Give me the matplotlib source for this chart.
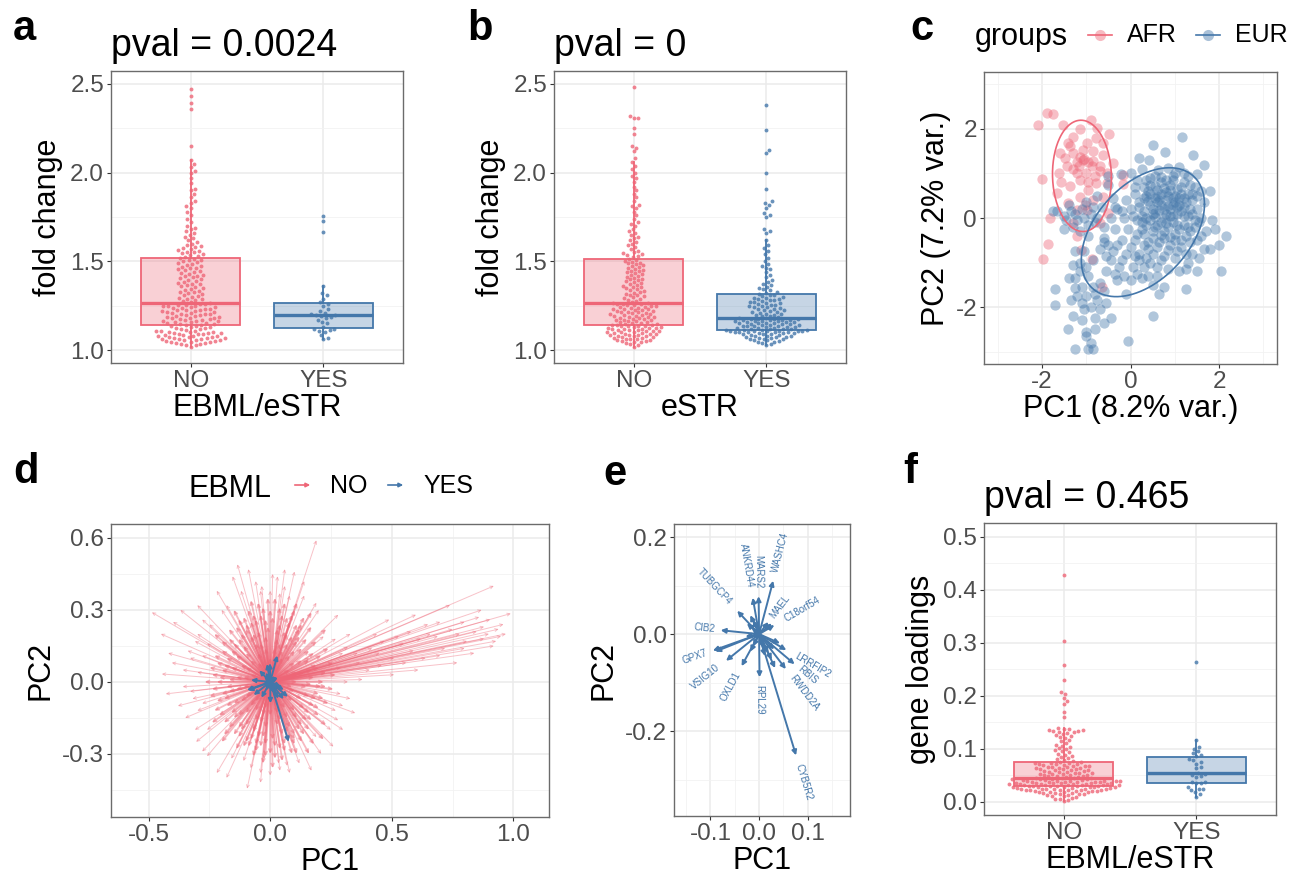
import numpy as np
import matplotlib
matplotlib.use("Agg")
import matplotlib.pyplot as plt
from matplotlib.lines import Line2D
from matplotlib.patches import FancyArrowPatch
from matplotlib.colors import to_rgba

plt.rcParams['font.family'] = ['Liberation Sans', 'DejaVu Sans']
plt.rcParams['axes.unicode_minus'] = False

# =========================
# Configs
# =========================
RED = "#EE6677"
BLUE = "#4477AA"
W, H = 1303, 876
OUT = "out.png"

# =========================
# Data
# =========================
# a: fold change, EBML/eSTR NO vs YES
a_no = [1.02, 1.026, 1.03, 1.033, 1.036, 1.039, 1.042, 1.044, 1.046, 1.048,
        1.05, 1.052, 1.054, 1.056, 1.058, 1.06, 1.062, 1.064, 1.066, 1.068,
        1.07, 1.072, 1.074, 1.076, 1.078, 1.08, 1.082, 1.084, 1.086, 1.088,
        1.09, 1.092, 1.094, 1.096, 1.098, 1.1, 1.102, 1.104, 1.106, 1.108,
        1.11, 1.113, 1.116, 1.119, 1.122, 1.125, 1.128, 1.131, 1.134, 1.138,
        1.141, 1.143, 1.146, 1.148, 1.151, 1.153, 1.156, 1.158, 1.161, 1.163,
        1.166, 1.168, 1.171, 1.173, 1.176, 1.178, 1.181, 1.183, 1.186, 1.188,
        1.191, 1.193, 1.196, 1.198, 1.201, 1.203, 1.206, 1.208, 1.211, 1.213,
        1.216, 1.218, 1.221, 1.223, 1.226, 1.228, 1.231, 1.233, 1.236, 1.238,
        1.241, 1.243, 1.246, 1.248, 1.251, 1.253, 1.256, 1.258, 1.261, 1.263,
        1.27, 1.275, 1.28, 1.285, 1.29, 1.295, 1.3, 1.305, 1.31, 1.315,
        1.32, 1.325, 1.33, 1.335, 1.34, 1.345, 1.35, 1.355, 1.36, 1.365,
        1.37, 1.375, 1.38, 1.385, 1.39, 1.395, 1.4, 1.405, 1.41, 1.415,
        1.42, 1.425, 1.43, 1.435, 1.44, 1.445, 1.45, 1.455, 1.46, 1.465,
        1.47, 1.475, 1.48, 1.485, 1.49, 1.495, 1.5, 1.505, 1.51, 1.515,
        1.52, 1.525, 1.53, 1.535, 1.54, 1.545, 1.55, 1.555, 1.56, 1.565,
        1.57, 1.575, 1.58, 1.585, 1.59, 1.6, 1.61, 1.62, 1.63, 1.64,
        1.65, 1.66, 1.67, 1.68, 1.69, 1.7, 1.72, 1.74, 1.76, 1.78,
        1.8, 1.81, 1.83, 1.84, 1.86, 1.88, 1.9, 1.91, 1.94, 1.97,
        2.0, 2.01, 2.03, 2.05, 2.07, 2.15, 2.36, 2.39, 2.43, 2.47]
a_yes = [1.06, 1.07, 1.085, 1.1, 1.11, 1.115, 1.118, 1.12, 1.13, 1.15,
         1.16, 1.17, 1.18, 1.185, 1.19, 1.196, 1.2, 1.205, 1.21, 1.22,
         1.23, 1.25, 1.26, 1.27, 1.29, 1.31, 1.32, 1.36, 1.665, 1.725, 1.755]

# b: fold change, eSTR NO vs YES
b_no = [1.02, 1.03, 1.035, 1.04, 1.043, 1.046, 1.049, 1.052, 1.055, 1.058,
        1.06, 1.062, 1.065, 1.067, 1.07, 1.072, 1.074, 1.077, 1.079, 1.081,
        1.083, 1.085, 1.087, 1.089, 1.091, 1.093, 1.095, 1.097, 1.099, 1.101,
        1.103, 1.105, 1.107, 1.109, 1.111, 1.113, 1.115, 1.117, 1.119, 1.121,
        1.123, 1.125, 1.127, 1.129, 1.131, 1.133, 1.135, 1.137, 1.138, 1.139,
        1.142, 1.144, 1.147, 1.149, 1.152, 1.154, 1.157, 1.159, 1.162, 1.164,
        1.167, 1.169, 1.172, 1.174, 1.177, 1.179, 1.182, 1.184, 1.187, 1.189,
        1.192, 1.194, 1.197, 1.199, 1.202, 1.204, 1.207, 1.209, 1.212, 1.214,
        1.217, 1.219, 1.222, 1.224, 1.227, 1.229, 1.232, 1.234, 1.237, 1.239,
        1.242, 1.244, 1.247, 1.249, 1.252, 1.254, 1.257, 1.259, 1.262, 1.264,
        1.268, 1.273, 1.278, 1.283, 1.288, 1.293, 1.298, 1.303, 1.308, 1.313,
        1.318, 1.323, 1.328, 1.333, 1.338, 1.343, 1.348, 1.353, 1.358, 1.363,
        1.368, 1.373, 1.378, 1.383, 1.388, 1.393, 1.398, 1.403, 1.408, 1.413,
        1.418, 1.423, 1.428, 1.433, 1.438, 1.443, 1.448, 1.453, 1.458, 1.463,
        1.468, 1.473, 1.478, 1.483, 1.488, 1.493, 1.498, 1.503, 1.508, 1.513,
        1.525, 1.53, 1.535, 1.54, 1.545, 1.55, 1.56, 1.57, 1.58, 1.59,
        1.6, 1.61, 1.62, 1.63, 1.64, 1.65, 1.66, 1.67, 1.68, 1.7,
        1.71, 1.72, 1.74, 1.76, 1.78, 1.8, 1.81, 1.82, 1.84, 1.86,
        1.88, 1.9, 1.92, 1.95, 1.97, 1.98, 2.0, 2.02, 2.04, 2.06,
        2.08, 2.12, 2.14, 2.15, 2.22, 2.25, 2.31, 2.31, 2.32, 2.48]
b_yes = [1.03, 1.036, 1.04, 1.044, 1.048, 1.051, 1.054, 1.057, 1.06, 1.062,
         1.065, 1.067, 1.07, 1.072, 1.074, 1.076, 1.078, 1.08, 1.082, 1.084,
         1.086, 1.088, 1.09, 1.092, 1.094, 1.096, 1.098, 1.1, 1.101, 1.102,
         1.103, 1.104, 1.105, 1.106, 1.107, 1.108, 1.109, 1.11, 1.111, 1.112,
         1.113, 1.115, 1.116, 1.118, 1.12, 1.121, 1.123, 1.125, 1.126, 1.128,
         1.13, 1.131, 1.133, 1.135, 1.136, 1.138, 1.14, 1.141, 1.143, 1.145,
         1.146, 1.148, 1.15, 1.151, 1.153, 1.155, 1.156, 1.158, 1.16, 1.161,
         1.163, 1.165, 1.166, 1.168, 1.17, 1.171, 1.172, 1.173, 1.174, 1.175,
         1.177, 1.18, 1.183, 1.186, 1.19, 1.193, 1.196, 1.2, 1.203, 1.206,
         1.21, 1.213, 1.216, 1.22, 1.223, 1.226, 1.23, 1.233, 1.236, 1.24,
         1.243, 1.246, 1.25, 1.253, 1.256, 1.26, 1.263, 1.266, 1.27, 1.273,
         1.276, 1.28, 1.283, 1.286, 1.29, 1.293, 1.296, 1.3, 1.304, 1.308,
         1.312, 1.318, 1.324, 1.33, 1.336, 1.342, 1.35, 1.358, 1.366, 1.375,
         1.385, 1.395, 1.41, 1.425, 1.44, 1.455, 1.465, 1.475, 1.485, 1.5,
         1.52, 1.54, 1.56, 1.575, 1.59,
         1.62, 1.66, 1.67, 1.68, 1.75, 1.76, 1.77, 1.8, 1.82, 1.83,
         1.84, 1.91, 2.0, 2.11, 2.13, 2.24, 2.38]

# c: sample PCA (PC1, PC2)
afr_pts = [(-2.10, 2.09), (-1.88, 2.36), (-1.76, 2.33), (-1.52, 2.08), (-1.14, 2.00),
           (-0.90, 2.21), (-0.75, 2.02), (-0.48, 1.89), (-1.41, 1.68), (-1.36, 1.62),
           (-2.01, 0.87), (-1.82, -0.01), (-1.86, -0.59), (-1.97, -0.91), (-1.62, 1.01),
           (-1.58, 0.80), (-1.65, 0.56), (-1.48, 1.35), (-1.29, 1.46), (-1.07, 1.53),
           (-0.84, 1.50), (-0.62, 1.42), (-0.39, 1.23), (-0.17, 0.97), (-0.18, 0.77),
           (-0.95, 0.82), (-1.16, 1.16), (-1.07, 1.31), (-0.84, 1.27), (-0.69, 1.05),
           (-1.22, 1.01), (-1.37, 0.72), (-1.41, 0.33), (-1.22, -0.41), (-0.86, -0.91),
           (-0.65, -1.55), (-0.77, 1.80), (-1.29, 1.83), (-0.99, 1.68), (-0.62, 1.68),
           (-1.14, 1.38), (-0.88, 1.16), (-0.69, 1.16), (-0.54, 1.01), (-0.54, 0.78),
           (-0.77, 0.78), (-0.95, 0.63), (-1.14, 0.48), (-0.84, 0.41), (-0.62, 0.48),
           (-0.50, 0.11), (-0.69, -0.12), (-0.99, 0.18), (-1.22, 0.18), (-1.31, -0.12),
           (-1.11, -0.72), (-1.59, 1.46), (-1.44, 1.16), (-1.14, 0.86), (-1.03, 0.29),
           (-1.05, 1.32), (-0.95, 1.25), (-1.20, 1.25), (-1.30, 1.10), (-0.80, 0.95),
           (-1.00, 1.00)]
eur_pts = [(1.16, 1.83), (0.5, 1.65), (0.77, 1.48), (1.42, 1.41), (0.2, 1.35),
           (0.42, 1.3), (1.65, 1.18), (1.5, 0.98), (1.1, 1.15), (0.85, 1.12),
           (0.62, 1.08), (0.25, 1.1), (0.0, 1.02), (-0.22, 0.98), (-0.5, 0.95),
           (1.3, 0.95), (0.95, 0.95), (0.7, 0.92), (0.45, 0.9), (0.15, 0.85),
           (1.2, 0.8), (1.6, 0.6), (1.8, 0.6), (1.45, 0.7), (0.9, 0.75),
           (0.3, 0.7), (0.55, 0.72), (0.75, 0.68), (1.05, 0.65), (1.3, 0.55),
           (0.1, 0.55), (0.35, 0.5), (0.6, 0.5), (0.85, 0.5), (1.1, 0.45),
           (1.4, 0.4), (1.65, 0.35), (-0.1, 0.4), (0.2, 0.35), (0.45, 0.3),
           (0.7, 0.3), (0.95, 0.3), (1.2, 0.25), (1.5, 0.2), (-0.3, 0.2),
           (0.0, 0.2), (0.3, 0.15), (0.55, 0.12), (0.8, 0.1), (1.05, 0.1),
           (1.3, 0.05), (1.6, 0.0), (1.85, -0.05), (-0.45, 0.0), (-0.15, 0.0),
           (0.15, -0.05), (0.45, -0.05), (0.7, -0.08), (0.95, -0.1), (1.2, -0.15),
           (1.45, -0.2), (1.7, -0.3), (1.92, -0.25), (2.15, -0.4), (2.0, -0.6),
           (1.8, -0.7), (-0.35, -0.25), (-0.05, -0.25), (0.25, -0.25), (0.5, -0.3),
           (0.75, -0.3), (1.0, -0.35), (1.25, -0.4), (1.5, -0.5), (-0.6, -0.45),
           (-0.2, -0.5), (0.1, -0.5), (0.4, -0.55), (0.65, -0.55), (0.9, -0.6),
           (1.15, -0.65), (1.4, -0.8), (1.65, -0.7), (-0.4, -0.75), (-0.1, -0.8),
           (0.2, -0.8), (0.5, -0.8), (0.75, -0.85), (1.0, -0.9), (1.3, -1.0),
           (1.55, -0.9), (-0.25, -1.1), (0.05, -1.1), (0.3, -1.1), (0.6, -1.1),
           (0.85, -1.15), (1.1, -1.2), (1.25, -1.15), (1.5, -1.2), (2.05, -1.2),
           (-0.55, -1.2), (-0.3, -1.4), (0.0, -1.4), (0.25, -1.35), (0.5, -1.5),
           (0.75, -1.55), (1.25, -1.6), (-0.1, -1.7), (0.65, -1.7),
           (0.4, 0.6), (0.7, 0.55), (0.9, 0.62), (1.15, 0.7), (0.5, 0.2),
           (0.65, 0.18), (0.9, 0.2), (1.1, 0.3), (1.35, 0.2), (0.35, -0.15),
           (0.6, -0.15), (0.85, -0.2), (1.1, -0.25), (1.35, -0.3), (0.55, 0.45),
           (0.8, 0.4), (1.0, 0.5), (0.25, 0.05), (1.2, 0.05), (0.75, -0.45),
           (1.0, -0.5), (0.3, -0.6),
           (0.3, 0.45), (0.45, 0.55), (0.6, 0.62), (0.8, 0.58), (0.95, 0.45),
           (1.15, 0.55), (1.25, 0.35), (1.05, 0.25), (0.85, 0.28), (0.6, 0.35),
           (0.4, 0.38), (0.2, 0.25), (0.35, 0.0), (0.55, 0.02), (0.75, 0.0),
           (0.95, 0.05), (1.15, 0.15), (1.4, 0.1), (1.55, -0.1), (1.3, -0.2),
           (1.05, -0.15), (0.8, -0.12), (0.55, -0.2), (0.3, -0.35), (0.5, -0.45),
           (0.7, -0.38), (0.9, -0.42), (1.15, -0.5), (1.35, -0.55), (0.6, -0.65),
           (0.85, -0.72), (1.05, -0.75), (0.4, -0.7), (0.15, -0.35), (0.05, 0.05),
           (0.1, 0.7), (0.45, 0.75), (0.7, 0.8), (0.95, 0.85), (1.2, 1.0),
           (1.0, 1.0), (0.55, 0.95), (1.35, 0.75), (1.5, 0.5), (1.45, -0.05),
           (1.6, -0.4), (1.25, -0.8), (0.7, -0.95), (0.45, -1.0), (0.2, -0.95),
           (0.65, 0.4), (0.9, 0.05), (0.75, 0.2), (1.0, 0.35), (0.5, 0.1),
           (0.25, -0.1), (1.2, 0.45), (0.35, 0.85), (0.8, 0.85), (1.4, 0.55),
           (-0.45, -0.95), (-0.2, -0.95), (0.0, -0.65), (0.15, -1.25), (-0.35, -1.25),
           (0.4, -1.3), (-0.5, -0.6), (-0.15, -1.3), (0.1, -0.85), (0.35, -0.9),
           (-0.3, -0.6), (0.6, -1.3),
           (-1.75, 0.15), (-1.65, 0.15), (-1.45, -0.05), (-1.5, -0.25), (-1.4, 0.3),
           (-1.25, 0.1), (-1.3, -0.2), (-1.0, 0.35), (-0.9, 0.1), (-0.8, -0.1),
           (-0.65, 0.25), (-0.95, -0.4), (-0.6, -0.55), (-0.7, -0.7), (-0.55, -0.85),
           (-0.85, -0.95), (-1.05, -0.75), (-0.4, 0.45), (-0.5, 0.75), (-0.35, 0.25),
           (-0.2, 0.15), (-1.15, -0.3), (-1.05, 0.0), (-0.75, 0.5),
           (-1.5, 0.05), (-1.35, 0.15), (-1.2, -0.05), (-0.95, -0.15), (-0.85, 0.25),
           (-0.75, 0.0), (-1.1, 0.2), (-0.6, -0.2),
           (-1.25, -0.75), (-1.3, -1.05), (-1.25, -1.35), (-1.1, -1.55), (-1.2, -1.75),
           (-1.0, -1.75), (-0.8, -1.7), (-0.75, -1.85), (-0.55, -1.9), (-0.7, -2.05),
           (-0.45, -2.25), (-0.6, -2.35), (-1.1, -2.3), (-1.42, -2.5), (-1.0, -2.55),
           (-0.8, -2.5), (-1.0, -2.65), (-0.85, -2.95), (-0.95, -2.95), (-1.25, -2.95),
           (-0.05, -2.77), (-1.7, -1.95), (-1.7, -1.6), (-1.35, -1.85), (-1.25, -1.58),
           (-1.15, -1.2), (-0.95, -1.3), (-0.7, -1.45), (0.5, -2.2), (-1.05, -2.05),
           (-0.9, -2.0), (-1.4, -1.35), (-1.15, -1.0), (-1.0, -1.1), (-0.85, -1.55),
           (-0.6, -1.65), (-1.3, -2.2), (-0.8, -2.25), (-1.1, -1.9), (-0.9, -2.8)]

# d: gene loadings (arrow tips), EBML NO -- long arrows
d_no_long = [
    (0.19, 0.59), (0.92, 0.40), (0.99, 0.285), (0.87, 0.30), (0.74, 0.32),
    (0.49, 0.26), (0.65, 0.24), (0.905, 0.26), (0.94, 0.22), (0.95, 0.19),
    (0.81, 0.17), (0.92, 0.15), (0.77, 0.08), (0.61, 0.05), (0.51, 0.03),
    (0.41, 0.05), (0.85, 0.21), (0.69, 0.19), (0.59, 0.13), (0.51, 0.10),
    (0.32, 0.145), (0.37, 0.08), (0.88, 0.23), (0.78, 0.20), (0.70, 0.25),
    (0.62, 0.18), (0.55, 0.16), (0.45, 0.12), (0.84, 0.12), (0.72, 0.14),
    (0.90, 0.20), (0.96, 0.24), (0.93, 0.17), (0.86, 0.27), (0.80, 0.25),
    (0.75, 0.22), (0.66, 0.20), (0.58, 0.21), (0.53, 0.19), (0.47, 0.17),
    (0.42, 0.14), (0.36, 0.12), (0.64, 0.10), (0.56, 0.08), (0.46, 0.07),
    (0.70, 0.11), (0.80, 0.14), (0.88, 0.18), (0.97, 0.20), (0.60, 0.28),
    (0.44, 0.20),
    (-0.487, 0.29), (-0.37, 0.30), (-0.446, 0.033), (-0.405, 0.08), (-0.34, 0.13),
    (-0.31, 0.17), (-0.33, -0.04), (-0.32, -0.07), (-0.305, -0.25), (-0.28, -0.29),
    (-0.22, -0.38), (-0.095, -0.445), (-0.135, 0.49), (-0.155, 0.44), (-0.18, 0.32),
    (0.01, 0.45), (0.03, 0.44), (0.10, 0.46), (-0.035, 0.40), (0.19, 0.33),
    (0.22, 0.19), (0.26, -0.27), (0.25, -0.20), (0.19, -0.23), (0.035, -0.34),
    (-0.025, -0.32), (0.33, -0.07), (0.38, 0.01), (0.16, 0.10), (-0.38, -0.10),
    (-0.35, -0.15), (-0.28, 0.26), (-0.42, 0.12),
    (-0.45, 0.20), (-0.40, 0.25), (-0.43, -0.05), (-0.36, 0.05), (-0.31, -0.20),
    (-0.26, -0.31), (-0.30, 0.32), (-0.22, 0.38), (-0.09, 0.47), (0.06, 0.47),
    (0.14, 0.42), (-0.18, -0.40), (0.17, -0.37), (0.21, -0.30), (0.30, -0.20),
    (0.35, -0.13), (0.33, 0.20), (0.28, 0.28),
    (-0.30, 0.20), (-0.33, 0.10), (-0.36, -0.02), (-0.30, -0.12), (-0.26, -0.20),
    (0.30, 0.12), (0.32, 0.0), (0.30, -0.10), (0.28, -0.16), (-0.06, 0.42),
    (0.06, 0.40), (-0.12, 0.38), (0.14, 0.36), (-0.20, 0.30), (-0.25, 0.24),
    (0.08, -0.38), (-0.08, -0.36), (-0.16, -0.32), (0.20, 0.30), (-0.04, -0.42),
    (0.12, -0.34), (0.0, 0.38), (0.04, 0.37), (-0.04, 0.38), (0.08, 0.36),
    (0.0, -0.39), (0.04, -0.37), (-0.04, -0.38), (0.07, -0.35), (-0.11, -0.33),
    (0.27, -0.12), (-0.28, -0.09), (0.29, -0.05), (-0.30, 0.04), (0.29, 0.06),
    (-0.28, 0.11), (0.27, 0.18), (-0.26, 0.16)]
# d: dense core of short arrows
d_no_core = [
    (0.05, 0.28), (0.08, 0.25), (0.12, 0.22), (0.15, 0.18), (0.18, 0.12),
    (0.20, 0.06), (0.22, 0.0), (0.20, -0.05), (0.18, -0.10), (0.15, -0.16),
    (0.12, -0.20), (0.08, -0.24), (0.04, -0.28), (0.0, -0.30), (-0.04, -0.27),
    (-0.08, -0.24), (-0.12, -0.20), (-0.15, -0.15), (-0.18, -0.10), (-0.20, -0.05),
    (-0.22, 0.0), (-0.20, 0.05), (-0.18, 0.10), (-0.15, 0.16), (-0.12, 0.20),
    (-0.08, 0.25), (-0.04, 0.28), (0.0, 0.30),
    (0.03, 0.18), (0.07, 0.16), (0.10, 0.13), (0.13, 0.09), (0.14, 0.04),
    (0.15, -0.02), (0.13, -0.07), (0.10, -0.12), (0.07, -0.15), (0.03, -0.18),
    (-0.02, -0.19), (-0.06, -0.16), (-0.10, -0.13), (-0.12, -0.08), (-0.14, -0.03),
    (-0.14, 0.02), (-0.12, 0.07), (-0.10, 0.12), (-0.06, 0.16), (-0.02, 0.19),
    (0.02, 0.35), (0.06, 0.33), (0.10, 0.30), (0.14, 0.27), (0.17, 0.23),
    (0.24, 0.14), (0.26, 0.08), (0.27, 0.03), (0.26, -0.03), (0.24, -0.09),
    (0.20, -0.14), (0.16, -0.20), (0.13, -0.25), (0.09, -0.30), (0.05, -0.33),
    (0.01, -0.36), (-0.03, -0.34), (-0.07, -0.31), (-0.11, -0.27), (-0.15, -0.22),
    (-0.19, -0.17), (-0.23, -0.12), (-0.25, -0.06), (-0.27, 0.0), (-0.25, 0.06),
    (-0.23, 0.11), (-0.20, 0.17), (-0.17, 0.22), (-0.13, 0.26), (-0.09, 0.30),
    (-0.05, 0.33), (-0.01, 0.35),
    (-0.20, -0.25), (0.22, -0.24), (0.16, -0.30),
    (0.05, 0.10), (0.08, 0.05), (0.09, -0.02), (0.07, -0.07), (0.03, -0.10),
    (-0.02, -0.11), (-0.06, -0.08), (-0.08, -0.03), (-0.08, 0.03), (-0.05, 0.08),
    (0.0, 0.10), (0.04, 0.24), (-0.10, 0.22), (0.10, -0.22), (-0.05, -0.23),
    (0.18, 0.02), (-0.18, -0.02),
    (0.03, 0.22), (0.06, 0.21), (0.09, 0.19), (0.11, 0.17), (0.13, 0.14),
    (0.16, 0.09), (0.17, 0.05), (0.17, -0.01), (0.16, -0.06), (0.14, -0.11),
    (0.11, -0.15), (0.08, -0.19), (0.05, -0.22), (0.01, -0.24), (-0.03, -0.23),
    (-0.07, -0.21), (-0.10, -0.18), (-0.13, -0.14), (-0.15, -0.09), (-0.17, -0.04),
    (-0.17, 0.01), (-0.16, 0.06), (-0.14, 0.11), (-0.11, 0.15), (-0.08, 0.19),
    (-0.05, 0.21), (-0.01, 0.23),
    (0.04, 0.31), (0.09, 0.28), (0.13, 0.24), (0.19, 0.17), (0.21, 0.11),
    (0.23, 0.04), (0.23, -0.02), (0.22, -0.07), (0.20, -0.11), (0.17, -0.16),
    (0.14, -0.22), (0.10, -0.26), (0.06, -0.29), (0.02, -0.32), (-0.02, -0.31),
    (-0.06, -0.29), (-0.10, -0.25), (-0.13, -0.23), (-0.17, -0.19), (-0.21, -0.14),
    (-0.22, -0.08), (-0.24, -0.03), (-0.24, 0.03), (-0.22, 0.08), (-0.20, 0.13),
    (-0.17, 0.18), (-0.14, 0.23), (-0.11, 0.27), (-0.07, 0.28), (-0.03, 0.31),
    (-0.08, 0.34), (0.11, 0.33), (-0.15, 0.30), (0.17, 0.29), (0.11, -0.30),
    (-0.14, -0.28), (0.18, -0.26), (-0.19, -0.22), (0.23, -0.18), (-0.24, -0.17),
    (0.23, 0.22), (-0.23, 0.20),
    (0.02, 0.14), (0.05, 0.13), (0.08, 0.11), (0.10, 0.08), (0.11, 0.04),
    (0.11, 0.0), (0.10, -0.04), (0.09, -0.08), (0.06, -0.11), (0.03, -0.13),
    (0.0, -0.14), (-0.03, -0.14), (-0.06, -0.12), (-0.08, -0.10), (-0.10, -0.06),
    (-0.11, -0.02), (-0.11, 0.02), (-0.10, 0.06), (-0.08, 0.09), (-0.05, 0.12),
    (-0.02, 0.14), (0.01, 0.27), (-0.02, 0.26), (0.07, 0.27), (-0.06, 0.26),
    (0.11, 0.24), (-0.10, 0.24), (0.02, -0.27), (-0.02, -0.26), (0.06, -0.26),
    (-0.06, -0.26), (0.10, -0.24), (-0.09, -0.27), (0.12, 0.19), (-0.13, 0.18),
    (0.13, -0.18), (-0.13, -0.19), (0.19, 0.07), (-0.19, 0.07), (0.19, -0.07),
    (-0.19, -0.07), (0.21, -0.02), (-0.21, 0.02), (0.07, 0.20), (-0.07, 0.20),
    (0.07, -0.21), (-0.07, -0.20), (0.16, 0.13), (-0.16, 0.13), (0.16, -0.13),
    (-0.16, -0.13), (0.04, 0.16), (-0.04, 0.16), (0.04, -0.16), (-0.04, -0.17)]
d_long_pc1 = np.array([p[0] for p in d_no_long])
d_long_pc2 = np.array([p[1] for p in d_no_long])
d_core_pc1 = np.array([p[0] for p in d_no_core])
d_core_pc2 = np.array([p[1] for p in d_no_core])

# e (and blue arrows in d): EBML YES gene loadings
e_gene = ["WASHC4", "MARS2", "ANKRD44", "TUBGCP4", "MAEL", "C18orf54", "CIB2",
          "GPX7", "VSIG10", "OXLD1", "RPL29", "LRRFIP2", "RBIS", "RWDD2A", "CYB5R2",
          "", "", "", "", "", "", "", "", "", "", "", "", "", "", "", ""]
e_pc1 = [0.029, -0.001, -0.013, -0.045, 0.019, 0.0315, -0.079,
         -0.095, -0.068, -0.036, 0.001, 0.056, 0.073, 0.055, 0.076,
         -0.018, -0.012, 0.026, 0.043, 0.031, 0.019, -0.012, -0.018, 0.009, 0.026,
         0.033, -0.025, -0.015, -0.090, 0.012, -0.028]
e_pc2 = [0.110, 0.078, 0.075, 0.048, 0.025, 0.0185, 0.008,
         -0.034, -0.055, -0.066, -0.089, -0.033, -0.062, -0.072, -0.250,
         0.039, 0.029, 0.022, -0.019, -0.0315, -0.038, -0.025, -0.036, -0.029, -0.053,
         -0.070, 0.022, 0.012, -0.036, -0.045, -0.005]

# f: gene loadings, EBML/eSTR NO vs YES
f_no = [0.001, 0.003, 0.005, 0.006, 0.008, 0.009, 0.01, 0.011, 0.012, 0.013,
        0.014, 0.015, 0.015, 0.016, 0.017, 0.017, 0.018, 0.018, 0.019, 0.019,
        0.02, 0.02, 0.021, 0.021, 0.022, 0.022, 0.022, 0.023, 0.023, 0.023,
        0.024, 0.024, 0.024, 0.025, 0.025, 0.025, 0.026, 0.026, 0.026, 0.027,
        0.027, 0.027, 0.028, 0.028, 0.028,
        0.029, 0.029, 0.029, 0.03, 0.03, 0.03, 0.031, 0.031, 0.031, 0.032,
        0.032, 0.032, 0.033, 0.033, 0.033, 0.034, 0.034, 0.034, 0.035, 0.035,
        0.035, 0.036, 0.036, 0.036, 0.037, 0.037, 0.037, 0.038, 0.038, 0.038,
        0.039, 0.039, 0.039, 0.04, 0.04, 0.04, 0.041, 0.041, 0.041, 0.042,
        0.042, 0.043, 0.043, 0.044, 0.044,
        0.045, 0.0457, 0.0463, 0.047, 0.0477, 0.0483, 0.049, 0.0497, 0.0503, 0.051,
        0.0517, 0.0523, 0.053, 0.0537, 0.0543, 0.055, 0.0557, 0.0563, 0.057, 0.0577,
        0.0583, 0.059, 0.0597, 0.0603, 0.061, 0.0617, 0.0623, 0.063, 0.0637, 0.0643,
        0.065, 0.0657, 0.0663, 0.067, 0.0677, 0.0683, 0.069, 0.0697, 0.0703, 0.071,
        0.0717, 0.0723, 0.073, 0.0737, 0.0745,
        0.075, 0.077, 0.079, 0.081, 0.083, 0.085, 0.087, 0.089, 0.091, 0.093,
        0.095, 0.097, 0.099, 0.101, 0.103, 0.105, 0.108, 0.111, 0.114, 0.117,
        0.12, 0.122, 0.124, 0.126, 0.128, 0.13, 0.131, 0.132, 0.133, 0.134,
        0.135, 0.136, 0.137, 0.138, 0.14,
        0.16, 0.17, 0.185, 0.19, 0.195, 0.203, 0.207, 0.23, 0.258, 0.303, 0.428]
f_yes = [0.009, 0.015, 0.018, 0.022, 0.024, 0.025, 0.027, 0.035, 0.036, 0.037,
         0.038, 0.047, 0.048, 0.05, 0.052, 0.055, 0.063, 0.065, 0.072, 0.075,
         0.078, 0.08, 0.087, 0.088, 0.092, 0.095, 0.1, 0.103, 0.116, 0.264]


# =========================
# Helpers
# =========================
def add_axes(fig, left, top, right, bottom):
    return fig.add_axes([left / W, 1 - bottom / H, (right - left) / W, (bottom - top) / H])


def ftext(fig, x, y, s, **kw):
    return fig.text(x / W, 1 - y / H, s, **kw)


def theme_bw(ax, xlim, ylim, xmaj, xlab, ymaj, ylab, xmin=(), ymin=()):
    ax.set_xlim(xlim)
    ax.set_ylim(ylim)
    ax.set_xticks(xmaj)
    ax.set_xticklabels(xlab)
    ax.set_yticks(ymaj)
    ax.set_yticklabels(ylab)
    ax.set_xticks(list(xmin), minor=True)
    ax.set_yticks(list(ymin), minor=True)
    ax.grid(True, which='major', color='#EBEBEB', lw=1.1)
    ax.grid(True, which='minor', color='#F2F2F2', lw=0.6)
    ax.set_axisbelow(True)
    ax.tick_params(which='major', direction='out', length=3, width=0.8, color='#333333',
                   labelsize=17.5, labelcolor='#4D4D4D', pad=2)
    ax.tick_params(which='minor', length=0)
    for s in ax.spines.values():
        s.set_color('#6B6B6B')
        s.set_linewidth(1.0)


def box(ax, vals, pos, col):
    bp = ax.boxplot([vals], positions=[pos], widths=0.75, patch_artist=True,
                    showfliers=False, showcaps=False, manage_ticks=False, whis=1.5,
                    boxprops=dict(facecolor=to_rgba(col, 0.3), edgecolor=col, linewidth=1.3),
                    whiskerprops=dict(color=col, linewidth=1.3),
                    medianprops=dict(color=col, linewidth=2.4), zorder=2)
    for m in bp['medians']:
        m.set_zorder(4)


def beeswarm(ax, vals, pos, col, gap=5.0, dot=3.9):
    # swarm layout in pixel space (needs final limits / axes position)
    vals = np.asarray(vals, dtype=float)
    tr = ax.transData
    ypx = tr.transform(np.column_stack([np.full(len(vals), pos), vals]))[:, 1]
    xscale = tr.transform([(1, 0)])[0][0] - tr.transform([(0, 0)])[0][0]
    offs = np.zeros(len(vals))
    placed = []
    for i in np.argsort(vals, kind='stable'):
        yi = ypx[i]
        near = [(xo, yo) for xo, yo in placed if abs(yo - yi) < gap]
        cands = [0.0]
        for xo, yo in near:
            d = np.sqrt(gap ** 2 - (yo - yi) ** 2)
            cands += [xo + d, xo - d]
        cands.sort(key=abs)
        for c in cands:
            if all((c - xo) ** 2 + (yi - yo) ** 2 >= gap ** 2 - 1e-6 for xo, yo in near):
                offs[i] = c
                break
        placed.append((offs[i], yi))
    size = (dot * 72 / 100) ** 2
    ax.scatter(pos + offs / xscale, vals, s=size, color=col, alpha=0.8, linewidths=0, zorder=3)


def swarm_box(ax, no_vals, yes_vals, gap=5.0):
    box(ax, no_vals, 0, RED)
    box(ax, yes_vals, 1, BLUE)
    beeswarm(ax, no_vals, 0, RED, gap=gap)
    beeswarm(ax, yes_vals, 1, BLUE, gap=gap)


def ellipse(pts, prob=0.68):
    pts = np.asarray(pts)
    mu = pts.mean(axis=0)
    sigma = np.cov(pts.T)
    ed = np.sqrt(-2 * np.log(1 - prob))
    th = np.linspace(0, 2 * np.pi, 200)
    circle = np.column_stack([np.cos(th), np.sin(th)])
    return circle @ np.linalg.cholesky(sigma).T * ed + mu


def arrows(ax, xs, ys, col, lw, style, ms, alpha=1.0):
    for x, y in zip(xs, ys):
        ax.annotate("", xy=(x, y), xytext=(0, 0),
                    arrowprops=dict(arrowstyle=style, color=to_rgba(col, alpha), lw=lw,
                                    shrinkA=0, shrinkB=0, mutation_scale=ms),
                    zorder=3)


# =========================
# Figure
# =========================
fig = plt.figure(figsize=(W / 100, H / 100), dpi=100)

fc_ticks = [1.0, 1.5, 2.0, 2.5]
fc_labels = ["1.0", "1.5", "2.0", "2.5"]

# ---- a ----
ax = add_axes(fig, 111, 71, 403, 363)
theme_bw(ax, (-0.6, 1.6), (0.927, 2.573), [0, 1], ["NO", "YES"], fc_ticks, fc_labels,
         ymin=[1.25, 1.75, 2.25])
swarm_box(ax, a_no, a_yes)
ax.set_xlabel("EBML/eSTR", fontsize=22, labelpad=1)
ax.set_ylabel("fold change", fontsize=22, labelpad=5)
ax.set_title("pval = 0.0024", loc='left', fontsize=27, pad=11)

# ---- b ----
ax = add_axes(fig, 554, 71, 846, 363)
theme_bw(ax, (-0.6, 1.6), (0.927, 2.573), [0, 1], ["NO", "YES"], fc_ticks, fc_labels,
         ymin=[1.25, 1.75, 2.25])
swarm_box(ax, b_no, b_yes, gap=4.4)
ax.set_xlabel("eSTR", fontsize=22, labelpad=1)
ax.set_ylabel("fold change", fontsize=22, labelpad=5)
ax.set_title("pval = 0", loc='left', fontsize=27, pad=11)

# ---- c ----
ax = add_axes(fig, 984, 72, 1277, 364)
afr = np.array(afr_pts)
eur = np.array(eur_pts)
ax.scatter(afr[:, 0], afr[:, 1], s=55, color=RED, alpha=0.42, linewidths=0, zorder=2)
ax.scatter(eur[:, 0], eur[:, 1], s=55, color=BLUE, alpha=0.42, linewidths=0, zorder=2)
for pts, col in [(afr, RED), (eur, BLUE)]:
    e = ellipse(pts)
    ax.plot(e[:, 0], e[:, 1], color=col, lw=1.2, zorder=3)
theme_bw(ax, (-3.31, 3.31), (-3.28, 3.28), [-2, 0, 2], ["-2", "0", "2"],
         [-2, 0, 2], ["-2", "0", "2"], xmin=[-3, -1, 1, 3], ymin=[-3, -1, 1, 3])
ax.set_xlabel("PC1 (8.2% var.)", fontsize=22, labelpad=1)
ax.set_ylabel("PC2 (7.2% var.)", fontsize=22, labelpad=3)

# legend c
ly = 35
ftext(fig, 975, 45, "groups", fontsize=22, va='baseline')
for x0, col, lab in [(1088, RED, "AFR"), (1196, BLUE, "EUR")]:
    fig.add_artist(Line2D([x0 / W, (x0 + 24) / W], [1 - ly / H, 1 - ly / H],
                          color=col, lw=1.2, transform=fig.transFigure))
    fig.add_artist(Line2D([(x0 + 12) / W], [1 - ly / H], marker='o', ms=8, color=col,
                          alpha=0.45, ls='none', mec='none', transform=fig.transFigure))
    ftext(fig, x0 + 39, 42, lab, fontsize=18, va='baseline')

# ---- d ----
ax = add_axes(fig, 111, 524, 549, 817)
arrows(ax, d_long_pc1, d_long_pc2, RED, 0.7, "->", 5, alpha=0.4)
arrows(ax, d_core_pc1, d_core_pc2, RED, 1.3, "->", 5, alpha=0.45)
arrows(ax, e_pc1, e_pc2, BLUE, 1.4, "-|>", 6)
theme_bw(ax, (-0.655, 1.147), (-0.563, 0.658), [-0.5, 0.0, 0.5, 1.0],
         ["-0.5", "0.0", "0.5", "1.0"], [-0.3, 0.0, 0.3, 0.6], ["-0.3", "0.0", "0.3", "0.6"],
         xmin=[-0.25, 0.25, 0.75], ymin=[-0.45, -0.15, 0.15, 0.45])
ax.set_xlabel("PC1", fontsize=22, labelpad=1)
ax.set_ylabel("PC2", fontsize=22, labelpad=5)

# legend d
ftext(fig, 188, 497, "EBML", fontsize=22, va='baseline')
for x0, col, lab in [(292, RED, "NO"), (385, BLUE, "YES")]:
    fig.add_artist(FancyArrowPatch((x0 / W, 1 - 485 / H), ((x0 + 21) / W, 1 - 485 / H),
                                   transform=fig.transFigure, arrowstyle="-|>",
                                   mutation_scale=6, color=col, lw=1.2))
    ftext(fig, x0 + 38, 493, lab, fontsize=18, va='baseline')

# ---- e ----
ax = add_axes(fig, 674, 524, 850, 816)
arrows(ax, e_pc1, e_pc2, BLUE, 1.4, "-|>", 7)
for x, y, g in zip(e_pc1, e_pc2, e_gene):
    if not g:
        continue
    ang = np.degrees(np.arctan(y / x))
    sgn = 1 if x > 0 else -1
    off = 0.25 * len(g) * 0.62 * 7
    dx = sgn * off * np.cos(np.radians(ang))
    dy = sgn * off * np.sin(np.radians(ang))
    ax.annotate(g, (x, y), xytext=(dx, dy), textcoords='offset points', rotation=ang,
                rotation_mode='anchor', ha='left' if x > 0 else 'right', va='center',
                fontsize=7, color=BLUE, zorder=4)
theme_bw(ax, (-0.175, 0.187), (-0.375, 0.227), [-0.1, 0.0, 0.1], ["-0.1", "0.0", "0.1"],
         [-0.2, 0.0, 0.2], ["-0.2", "0.0", "0.2"],
         xmin=[-0.15, -0.05, 0.05, 0.15], ymin=[-0.3, -0.1, 0.1])
ax.set_xlabel("PC1", fontsize=22, labelpad=1)
ax.set_ylabel("PC2", fontsize=22, labelpad=5)

# ---- f ----
ax = add_axes(fig, 984, 523, 1276, 815)
theme_bw(ax, (-0.6, 1.6), (-0.025, 0.526), [0, 1], ["NO", "YES"],
         [0.0, 0.1, 0.2, 0.3, 0.4, 0.5], ["0.0", "0.1", "0.2", "0.3", "0.4", "0.5"],
         ymin=[0.05, 0.15, 0.25, 0.35, 0.45])
swarm_box(ax, f_no, f_yes, gap=4.5)
ax.set_xlabel("EBML/eSTR", fontsize=22, labelpad=1)
ax.set_ylabel("gene loadings", fontsize=22, labelpad=5)
ax.set_title("pval = 0.465", loc='left', fontsize=27, pad=11)

# panel letters
for x, y, s in [(13, 40, "a"), (467, 40, "b"), (910, 40, "c"),
                (13, 483, "d"), (603, 485, "e"), (903, 483, "f")]:
    ftext(fig, x, y, s, fontsize=30, fontweight='bold', va='baseline')

fig.savefig(OUT, dpi=100)
print("Saved:", OUT)
